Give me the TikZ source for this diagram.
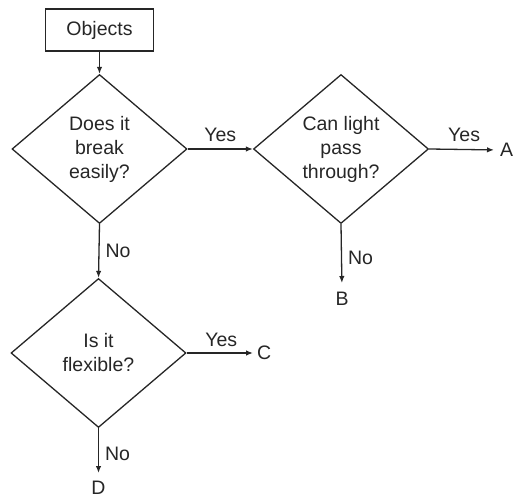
\documentclass[tikz,border=0pt]{standalone}
\usepackage{fontspec}
\setmainfont{Liberation Sans}
\usetikzlibrary{shapes.geometric,arrows.meta}
\begin{document}
\begin{tikzpicture}[x=1pt,y=1pt,
  every node/.style={font=\fontsize{19.5}{24}\selectfont, text=black!85},
  line/.style={draw=black!85, line width=1.3pt},
  arr/.style={line, -{Latex[length=7pt,width=5.5pt]}},
  box/.style={line, rectangle, minimum width=108pt, minimum height=42pt, inner sep=0pt},
  dia/.style={line, diamond, aspect=1.17, inner sep=0pt, align=center,
              minimum width=175pt, minimum height=149pt},
  term/.style={inner sep=1pt},
  lab/.style={inner sep=3pt}
]
\useasboundingbox (0,0) rectangle (518,500);
\node[box] (obj) at (99.5,470) {Objects};
\node[dia] (d1) at (99.5,351) {Does it\\break\\easily?};
\node[dia] (d2) at (341,351) {Can light\\pass\\through?};
\node[dia] (d3) at (98.5,147) {Is it\\flexible?};
\node[term, anchor=west] (A) at (499,350) {A};
\node[term, anchor=north] (B) at (342,209) {B};
\node[term, anchor=west] (C) at (256,147) {C};
\node[term, anchor=north] (D) at (98.5,20) {D};
\draw[arr] (obj.south) -- (d1.north);
\draw[arr] (d1.east) -- node[lab, above=4pt] (y1) {Yes} (d2.west);
\draw[arr, shorten >=5pt] (d2.east) -- node[lab, above=4pt] (y2) {Yes} (A.west);
\draw[arr] (d1.south) -- node[lab, right=3pt] (n1) {No} (d3.north);
\draw[arr, shorten >=8pt] (d2.south) -- node[lab, right=3pt] (n2) {No} (B.north);
\draw[arr, shorten >=3pt] (d3.east) -- node[lab, above=3pt] (y3) {Yes} (C.west);
\draw[arr, shorten >=7pt] (d3.south) -- node[lab, right=3pt] (n3) {No} (D.north);
\end{tikzpicture}
\end{document}
